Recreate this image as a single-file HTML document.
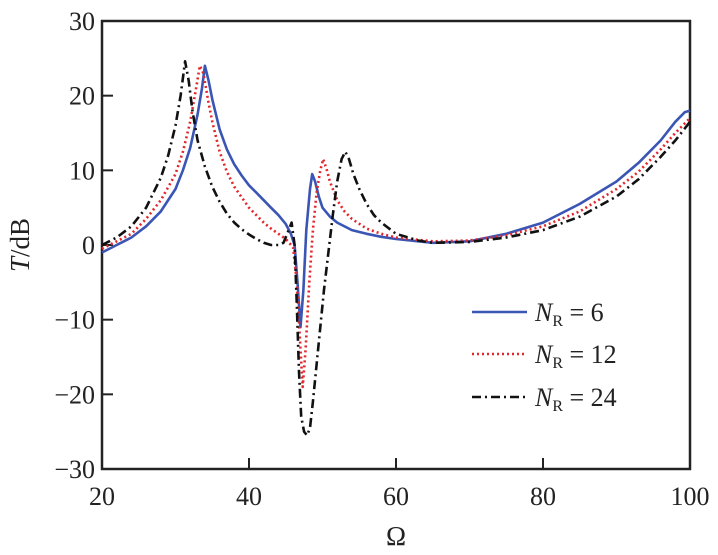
<!DOCTYPE html>
<html><head><meta charset="utf-8"><style>
body{margin:0;background:#fff}
svg text{font-family:"Liberation Serif",serif;fill:#222}
</style></head><body>
<svg id="chart" width="718" height="550" viewBox="0 0 718 550" xmlns="http://www.w3.org/2000/svg">
<g id="axes"></g>
<g id="series"></g>
<g id="legend"></g>
</svg>
<script>
const xTicks=[20,40,60,80,100];
const yTicks=[30,20,10,0,-10,-20,-30];
const yTickLabels=["30","20","10","0","\u221210","\u221220","\u221230"];
const blueX=[20,22,24,26,28,30,31,32,33,33.6,34,34.5,35,36,37,38,39,40,41,42,43,44,45,45.7,46.2,46.6,47,47.4,47.8,48.3,48.6,49,49.5,50,51,52,54,56,58,60,65,70,75,80,85,90,93,96,98,99.3,100];
const blueY=[-1,0,1,2.5,4.5,7.5,10,13,17.5,21,24,22,19.5,15.5,12.8,10.8,9.3,8,7,6,5,4,2.8,1.5,0,-5,-11,-6,2,7.5,9.5,8.5,6.5,5,3.8,3,2,1.5,1.1,0.8,0.3,0.5,1.5,3,5.5,8.5,11,14,16.5,17.8,18];
const redX=[20,22,24,26,28,30,31,32,32.8,33.3,33.8,34.5,35,36,37,38,40,42,43,45,46,46.5,47,47.3,47.7,48.2,48.7,49.2,49.7,50.1,50.6,51,52,53,54,56,58,60,65,70,75,80,85,90,93,96,98,100];
const redY=[-0.5,0.5,1.5,3.5,6,9.5,12.5,16.5,21,24,23,19,16.5,12.5,9.8,7.8,5,3,2.2,0.8,-0.3,-5,-14,-19,-14,-5,2,7,10,11.5,10,8.5,6,4.5,3.5,2.2,1.5,1,0.5,0.6,1.3,2.5,4.5,7.5,9.8,12.8,15,17];
const blackX=[20,22,24,26,28,29,30,30.7,31.3,31.8,32.3,33,34,35,36,37,38,39,40,41,42,43,44,44.7,45.2,45.8,46.2,46.5,46.8,47.1,47.5,47.9,48.3,48.7,49.2,49.7,50.2,50.8,51.4,52,52.6,53.1,53.6,54.2,55,56,57,58,60,63,65,70,75,80,85,90,93,96,98,100];
const blackY=[0,1,2.5,5,9,12,16,20,24.6,22,18,14,10.5,7.8,5.8,4.2,3,2.1,1.4,0.8,0.3,0,0,0.3,1.5,3,0,-8,-17,-23,-25,-25.5,-24.5,-21,-16,-11,-6,-1,4,8.5,11.5,12.5,11.5,9.5,7.5,5.5,4,3,1.5,0.6,0.3,0.4,1,2,3.8,6.5,8.8,11.8,14,16.5];
const legendLabels=["6","12","24"];

const NS="http://www.w3.org/2000/svg";
const L=102,R=690,T=21,B=469;
const sx=v=>L+(v-20)/80*(R-L);
const sy=v=>T+(30-v)/60*(B-T);
function mk(tag,parent){const e=document.createElementNS(NS,tag);parent.appendChild(e);return e;}
const axes=document.getElementById('axes');
const frame=mk('rect',axes);


frame.setAttribute('x',L);frame.setAttribute('y',T);frame.setAttribute('width',R-L);frame.setAttribute('height',B-T);
frame.setAttribute('fill','none');frame.setAttribute('stroke','#222');frame.setAttribute('stroke-width','2.5');
xTicks.forEach(v=>{
  const t=mk('line',axes);
  
  
  t.setAttribute('x1',sx(v));t.setAttribute('x2',sx(v));t.setAttribute('y1',B);t.setAttribute('y2',B-11);
  t.setAttribute('stroke','#222');t.setAttribute('stroke-width','2');
  const lb=mk('text',axes);
  
  
  lb.setAttribute('x',sx(v));lb.setAttribute('y',B+36);lb.setAttribute('text-anchor','middle');lb.setAttribute('font-size','26');
  lb.textContent=v;
});
yTicks.forEach((v,i)=>{
  const t=mk('line',axes);
  
  
  t.setAttribute('x1',L);t.setAttribute('x2',L+11);t.setAttribute('y1',sy(v));t.setAttribute('y2',sy(v));
  t.setAttribute('stroke','#222');t.setAttribute('stroke-width','2');
  const lb=mk('text',axes);
  
  
  lb.setAttribute('x',L-7);lb.setAttribute('y',sy(v)+9);lb.setAttribute('text-anchor','end');lb.setAttribute('font-size','26');
  lb.textContent=yTickLabels[i];
});
const xt=mk('text',axes);


xt.setAttribute('x',(L+R)/2);xt.setAttribute('y',545);xt.setAttribute('text-anchor','middle');xt.setAttribute('font-size','27');
xt.textContent='Ω';
const yt=mk('text',axes);


yt.setAttribute('transform','translate(29,'+sy(0)+') rotate(-90)');yt.setAttribute('text-anchor','middle');yt.setAttribute('font-size','27');
yt.innerHTML='<tspan font-style="italic">T</tspan>/dB';

const ser=document.getElementById('series');
const styles=[
 {xs:blueX,ys:blueY,c:'#3a55b4',d:'',name:'series-nr-6'},
 {xs:redX,ys:redY,c:'#e3262a',d:'2 3',name:'series-nr-12'},
 {xs:blackX,ys:blackY,c:'#111',d:'9 4 2 4',name:'series-nr-24'}];
styles.forEach(s=>{
  const p=mk('path',ser);
  
  
  p.setAttribute('d',s.xs.map((x,i)=>(i?'L':'M')+sx(x).toFixed(1)+','+sy(s.ys[i]).toFixed(1)).join(''));
  p.setAttribute('fill','none');p.setAttribute('stroke',s.c);p.setAttribute('stroke-width','2.6');
  p.setAttribute('stroke-linejoin','round');
  if(s.d)p.setAttribute('stroke-dasharray',s.d);
});
const lg=document.getElementById('legend');
const ly=[312,354,397];
styles.forEach((s,i)=>{
  const ln=mk('line',lg);
  
  
  ln.setAttribute('x1',472);ln.setAttribute('x2',527);ln.setAttribute('y1',ly[i]);ln.setAttribute('y2',ly[i]);
  ln.setAttribute('stroke',s.c);ln.setAttribute('stroke-width','2.6');
  if(s.d)ln.setAttribute('stroke-dasharray',s.d);
  const tx=mk('text',lg);
  
  
  tx.setAttribute('x',535);tx.setAttribute('y',ly[i]+9);tx.setAttribute('font-size','26');
  tx.innerHTML='<tspan font-style="italic">N</tspan><tspan font-size="16" dy="5">R</tspan><tspan dy="-5"> = '+legendLabels[i]+'</tspan>';
});
</script>
</body></html>
